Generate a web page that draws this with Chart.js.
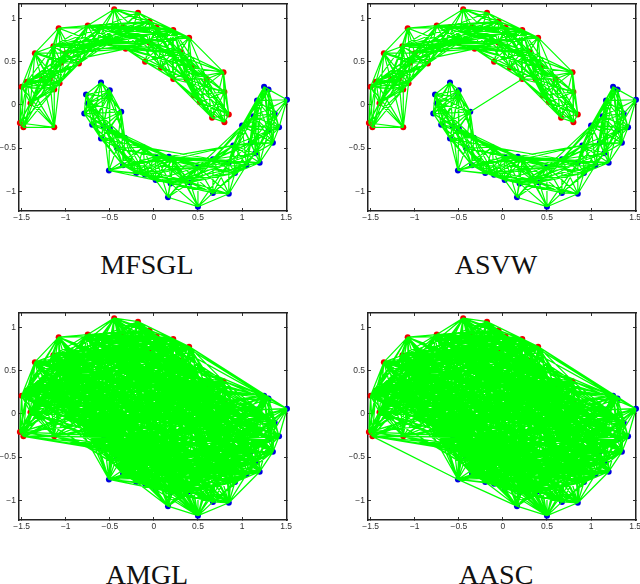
<!DOCTYPE html>
<html>
<head>
<meta charset="utf-8">
<title>Graphs</title>
<script src="https://cdn.jsdelivr.net/npm/chart.js@4/dist/chart.umd.min.js"></script>
<style>
html, body { margin: 0; padding: 0; background: #fff; width: 640px; height: 584px; overflow: hidden; }
canvas { position: absolute; }
.name { position: absolute; width: 200px; text-align: center; font: 28px "Liberation Serif", serif; color: #111; line-height: 30px; }
</style>
</head>
<body>
<canvas id="c0" width="296" height="240" style="left:0;top:0"></canvas>
<canvas id="c1" width="296" height="240" style="left:349px;top:0"></canvas>
<canvas id="c2" width="296" height="240" style="left:0;top:309px"></canvas>
<canvas id="c3" width="296" height="240" style="left:349px;top:309px"></canvas>
<div class="name" style="left:47px;top:250px">MFSGL</div>
<div class="name" style="left:396px;top:250px">ASVW</div>
<div class="name" style="left:47px;top:560px">AMGL</div>
<div class="name" style="left:396px;top:560px">AASC</div>

<script>
// points, same in all four panels
var redX = [-1.52,-1.48,-1.13,-1.40,-1.50,-1.44,-1.35,-1.08,-1.13,-1.07,-1.27,-1.18,-0.85,-1.05,-1.14,-1.00,-0.75,-0.65,-0.60,-0.50,-0.45,-0.35,-0.32,-0.18,-0.10,-0.05,0.03,-0.05,0.08,0.22,0.22,0.40,0.30,0.20,0.43,0.45,0.52,0.66,0.79,0.80,0.80,0.85,0.60,0.37];
var redY = [-0.21,-0.26,-0.26,0.02,0.21,0.27,0.60,0.89,0.18,0.25,0.29,0.30,0.48,0.49,0.68,0.60,0.92,0.72,0.90,0.72,1.11,0.90,0.65,1.07,0.50,0.97,0.90,0.72,0.43,0.87,0.30,0.78,0.62,0.60,0.43,0.11,0.03,-0.15,0.38,0.15,-0.20,-0.11,0.30,0.30];
var blueX = [-0.60,-0.50,-0.51,-0.77,-0.75,-0.79,-0.37,-0.70,-0.60,-0.57,-0.50,-0.33,-0.42,-0.51,-0.35,-0.20,-0.12,-0.10,0.02,0.02,0.17,0.16,0.19,0.22,0.33,0.41,0.50,0.50,0.67,0.67,0.85,0.85,0.92,0.90,1.00,1.05,1.10,1.15,1.20,1.13,1.17,1.25,1.30,1.35,1.37,1.42,1.51,1.30];
var blueY = [0.26,0.17,0.10,0.12,0.02,-0.10,-0.08,-0.23,-0.39,-0.25,-0.27,-0.38,-0.50,-0.76,-0.70,-0.79,-0.49,-0.81,-0.87,-0.60,-0.60,-1.07,-0.91,-0.63,-0.87,-0.90,-1.18,-0.72,-1.02,-0.63,-1.03,-0.67,-0.79,-0.47,-0.24,-0.70,-0.44,-0.56,-0.67,-0.13,0.05,0.21,0.18,-0.44,-0.10,-0.26,0.06,-0.30];

var xTicks = [-1.5,-1,-0.5,0,0.5,1,1.5];
var xTickLabels = ["\u22121.5","\u22121","\u22120.5","0","0.5","1","1.5"];
var yTicks = [-1,-0.5,0,0.5,1];
var yTickLabels = ["\u22121","\u22120.5","0","0.5","1"];

// edges: first number of a row is a node, the rest are the nodes it joins.
// red nodes are 0-43, blue nodes are 44-91
var moonRows = [
[0,1,2,3,4,5,10,8],[1,2,3,4,5,8,10,11],[2,3,8,10,11],[3,4,5,6,8,9,10,11,13],[4,5,6,8,10,11,13],
[5,6,8,9,10,11,13,14],[6,7,10,11,13,14,15,12],[7,12,13,14,15,16,17,18],[8,9,10,11,13,14],[9,10,11,12,13,14,15],
[10,11,12,13,14,15],[11,12,13,14,15,7],[12,13,14,15,17,7],[13,14,15,16,17,18],[14,15,16,17,18,19,21,22],
[15,16,17,18,19,21],[16,17,18,19,20,21,22,25,26],[17,18,19,20,21,22,25,26,27],[18,19,20,21,22,23,25,26,27],[19,20,21,22,23,25,26,27,29],
[20,21,22,23,25,26,27,29],[21,22,23,25,26,27,29,31,33],[22,23,24,25,26,27,32,33,29],[23,25,26,27,29,31],[24,26,27,28,29,30,33,32],
[25,26,27,29,31,32,33],[26,27,28,29,31,32,33],[27,28,29,30,31,32,33,43],[28,29,30,32,33,43],[29,30,31,32,33,34,43],
[30,32,33,34,35,42,43],[31,32,33,34,43],[32,33,34,35,38,42,43],[33,34,35,36,42,43],[34,35,36,37,38,39,42,43],
[35,36,37,38,39,41,42,43],[36,37,39,40,41,42,43],[37,38,39,40,41,42],[38,39,41,42,40],[39,40,41,42],[40,41,42],[41,42],[42,43],
[44,45,46,47,48,49,50],[45,46,47,48,49,50,53],[46,47,48,49,50,51,53],[47,48,49,51,53],[48,49,50,51,52,53,54],
[49,50,51,52,53,54],[50,51,52,53,54,55],[51,52,53,54,55,56],[52,53,54,55,56,58,60],[53,54,55,56,57,58],
[54,55,56,57,58,59,60],[55,56,58,59,60,61,63],[56,57,58,59,60,61,63],[57,58,59,60,61,63,64],[58,59,60,61,62,63,64,67],
[59,60,61,62,63,64,66,67],[60,61,62,63,64,67,71],[61,62,63,64,66,67,68],[62,63,64,65,66,67,68,69,71],[63,64,65,66,67,68,69,71],
[64,66,67,68,69,71,73,75],[65,66,67,68,69,70,71],[66,67,68,69,70,71,73],[67,68,69,70,71,72,73,75],[68,69,70,71,72,73,75,76],
[69,70,71,72,73,74,75,76],[70,71,72,74,75],[71,72,73,74,75,76,77,79],[72,73,74,75,76,79],[73,74,75,76,77,78,79,80],
[74,75,76,79],[75,76,77,78,79,80,81],[76,77,78,79,80,81,82],[77,78,79,80,81,82,83],[78,79,80,81,83,84,87,91],
[79,80,81,82,83,91],[80,81,82,83,84,87,88,91],[81,82,83,84,87,88,91],[82,83,87,91,84],[83,84,85,86,87,88,89,91],
[84,85,86,87,88,89,90,91],[85,86,87,88,89,90,91],[86,88,89,90,91],[87,88,89,91],[88,89,90,91],[89,90,91],[90,91]
];
// longer links along the two bands
var moonLong = [
[14,26,27,29],[13,21,22,19,25],[15,22,25,26,27],[12,16,18,19,21],[11,16,17],[9,16,17,18],[16,27,29,31],[17,29,31,33],
[18,29,31,32],[19,31,32,33,34],[21,34,43,30],[22,30,34,43],[25,34,43,30],[26,34,43,42],[27,34,42],[29,35,42],[31,35,42,38],
[32,36,39,41],[33,37,38,39,41],[34,40,41],[30,36,37,39],[43,35,36,37,38,39,40,41],[3,14,15,12],[4,9,15,12],[5,15,12],[6,8,9],
[10,7,16],[2,5,9],[2,4],
[46,52,54,55],[47,52,54],[44,51,53],[45,51,52,54,55],[48,55,56],[50,56,58],[51,58,60],[53,59,60,63],[54,61,63,64],[55,62,64,67],
[56,62,64,67],[58,66,68,71],[59,68,69,71],[60,68,69,73],[61,69,71,73],[63,73,75],[64,76,77],[66,72,74,75],[67,76,77],[68,74,77,79],
[69,77,79],[71,78,80,81],[73,81,82,83],[75,82,83,84],[77,84,87,91],[78,85,86,88,89],[80,85,89],[81,85,89],[83,90],[87,85,86]
];
var denseRows = [
[0,6,13,15,19,22,27,30,46,50,53,55],[1,9,14,17,24,28,34,47,51,52,54,55,60],[2,13,15,19,24,30,36,45,50,52,54,56,60,63],
[3,7,12,16,21,27,33,37,44,48,53,60,63,67],[4,7,14,18,23,26,32,35,46,50,55,60,64],[5,7,16,20,25,31,34,38,45,49,54,59,66],
[6,8,17,22,28,33,36,42,47,52,56,61,68],[7,9,21,24,30,35,39,44,50,55,62,67,71],[8,12,16,19,23,27,32,37,43,48,53,58,63,69,73],
[9,17,20,26,29,34,40,46,51,57,60,65,71],[10,18,22,25,31,36,41,45,54,59,64,68,75],[11,19,21,28,33,38,44,49,52,56,61,66,72],
[12,16,20,24,29,35,39,47,50,55,62,67,70,77],[13,22,27,30,37,42,46,53,58,63,69,74,78],[14,26,32,40,43,48,51,57,60,65,71,79],
[15,23,28,34,36,41,45,54,59,64,68,73,76],[16,31,38,44,49,56,61,66,72,75,80],[17,24,30,35,39,47,52,62,67,70,77,81],
[18,33,37,42,46,50,55,63,69,74,78,83],[19,36,40,48,53,58,65,71,76,82],[20,28,34,43,45,51,60,64,68,73,79,84],
[21,32,38,41,44,54,59,66,72,75,80,87],[22,30,35,39,47,49,56,61,67,70,77,81,88],[23,33,37,42,46,52,57,62,69,74,78,83,91],
[24,31,36,40,43,50,55,63,65,71,76,82,85],[25,34,41,48,53,58,64,68,73,79,84,89],[26,30,35,38,45,51,60,66,72,75,80,86,90],
[27,37,39,44,54,59,67,70,77,81,87],[28,36,42,47,49,56,61,69,74,78,83,88],[29,40,46,52,62,71,76,82,85,91],
[30,38,41,50,55,63,65,73,79,84,89],[31,37,39,42,48,57,64,68,75,80,85,86,90],[32,36,40,44,53,58,66,72,77,81,87],
[33,38,45,51,60,67,70,78,83,88],[34,41,47,54,59,69,74,76,82,91],[35,46,49,61,71,73,79,85,89],
[36,50,52,56,62,65,75,84,86,90],[37,44,55,63,68,77,80,87],[38,48,53,64,72,78,81,85,88,90],
[39,45,57,66,70,76,83,86,91],[40,47,51,58,67,74,79,82,89],[41,46,60,69,71,75,84,87,90],
[42,49,54,61,73,77,80,85,88],[43,50,59,62,65,78,81,86,91],
[44,52,56,64,68,72],[45,55,63,67,70,76,83],[46,58,71,74,79,84],[47,60,62,69,75],[48,57,61,66,73,77,80],
[49,59,65,72,78],[50,56,64,70,76,81,85],[51,63,68,74,82],[52,67,71,79,87],[53,62,69,75,83,91],
[54,66,73,80,88],[55,65,72,77,84,89],[56,64,70,78,86],[57,67,71],[58,68,74,81],[59,65,69,76,82],
[60,66,73,79,85,90],[61,71,75,87],[62,72,78,83],[63,70,77,84,91],[64,74,80,88],[65,73],[66,76,81,89],
[67,79,85],[68,75,82,86],[69,78,87],[70,73,77],[71,80,90],[72,83],[73,81,84,91],[74,77,82],[75,85,88],[76,87,89],[77,86,90]
];
// more links across the middle of the blob
var denseCore = [
[14,54,61,67,73,77],[15,50,57,66,75,83],[13,52,62,71,80],[12,51,60,69,76,88],[17,55,64,73,82],[19,52,61,70,79,86],[21,46,57,68,76,85],
[22,53,62,72,80,91],[24,48,58,69,78,84],[27,47,56,66,75,83],[28,44,54,64,76,87],[30,49,59,70,81,88],[32,45,57,67,79],[33,46,55,65,75,84],
[34,50,62,72,80,86],[35,44,56,66,76,83],[36,47,58,71,81],[37,48,59,69,78,91],[39,49,60,72,82],[42,51,63,75,87],[43,52,61,73,85],
[10,53,62,76,84],[11,50,63,74,81],[9,55,63,75,91],[8,47,61,72,80],[6,49,58,70,76],[5,47,55,63,71],[4,49,56,64,73],[3,46,54,62,70],
[46,61,68,78,88],[48,54,62,70,83],[50,63,69,79,89],[52,64,73,84],[54,65,75,87],[56,68,77,85],[58,71,82],[60,70,76,87],[63,74,81,89],
[67,78,84],[71,83,88],[73,87,90],[64,82,90]
];
var mfsglExtra = [[57,66],[70,68]];
var asvwExtra = [[50,30],[52,57],[40,37],[47,50]];
var amglExtra = [[1,52],[57,62]];
var aascExtra = [[1,57],[57,65],[70,74],[74,82]];

var nodeX = redX.concat(blueX);
var nodeY = redY.concat(blueY);

function xy(xs, ys){
	var pts = [];
	for(var i = 0; i < xs.length; i++){
		pts.push({x: xs[i], y: ys[i]});
	}
	return pts;
}

// one path for all the edges, a NaN point lifts the pen
function edgePath(rowLists){
	var pts = [];
	rowLists.forEach(function(rows){
		rows.forEach(function(row){
			for(var k = 1; k < row.length; k++){
				pts.push({x: nodeX[row[0]], y: nodeY[row[0]]});
				pts.push({x: nodeX[row[k]], y: nodeY[row[k]]});
				pts.push({x: NaN, y: NaN});
			}
		});
	});
	return pts;
}

function axis(pos, lo, hi, ticks, labels, size, showLabels, pad){
	return {
		type: "linear",
		position: pos,
		axis: (pos == "left" || pos == "right") ? "y" : "x",
		min: lo,
		max: hi,
		afterBuildTicks: function(scale){
			scale.ticks = ticks.map(function(v){ return {value: v}; });
		},
		afterFit: function(scale){
			if(scale.isHorizontal()){ scale.height = size; }
			else { scale.width = size; }
			// tick labels may hang over the edges, the plot box must not move
			scale.paddingLeft = 0;
			scale.paddingRight = 0;
			scale.paddingTop = 0;
			scale.paddingBottom = 0;
		},
		border: {display: true, color: "#222", width: 1.5},
		grid: {drawOnChartArea: false, drawTicks: true, tickLength: -3, color: "#333", lineWidth: 1},
		ticks: {
			display: showLabels,
			autoSkip: false,
			maxRotation: 0,
			minRotation: 0,
			padding: pad,
			color: "#333",
			font: {family: "'Liberation Sans', Arial, sans-serif", size: 8.5},
			callback: function(v){ return labels[ticks.indexOf(v)]; }
		}
	};
}

function drawPanel(id, rowLists, lineWidth){
	var ctx = document.getElementById(id).getContext("2d");
	return new Chart(ctx, {
		type: "scatter",
		data: {
			datasets: [
				{
					label: "edges",
					data: edgePath(rowLists),
					showLine: true,
					spanGaps: false,
					borderColor: "#00ff00",
					borderWidth: lineWidth,
					pointRadius: 0,
					clip: false
				},
				{label: "red", data: xy(redX, redY), pointRadius: 3, pointBackgroundColor: "#f00000", pointBorderWidth: 0, clip: false},
				{label: "blue", data: xy(blueX, blueY), pointRadius: 3, pointBackgroundColor: "#0000e0", pointBorderWidth: 0, clip: false}
			]
		},
		options: {
			responsive: false,
			animation: false,
			layout: {padding: {left: 0, top: 0, right: 9, bottom: 0}},
			plugins: {legend: {display: false}, tooltip: {enabled: false}, title: {display: false}},
			scales: {
				x: axis("bottom", -1.53, 1.51, xTicks, xTickLabels, 29, true, 5),
				y: axis("left", -1.23, 1.17, yTicks, yTickLabels, 19, true, 6),
				x2: axis("top", -1.53, 1.51, xTicks, xTickLabels, 1, false, 0),
				y2: axis("right", -1.23, 1.17, yTicks, yTickLabels, 0, false, 0)
			}
		}
	});
}

drawPanel("c0", [moonRows, moonLong, mfsglExtra], 1.2);
drawPanel("c1", [moonRows, moonLong, asvwExtra], 1.2);
drawPanel("c2", [moonRows, moonLong, denseRows, denseCore, amglExtra], 1.3);
drawPanel("c3", [moonRows, moonLong, denseRows, denseCore, aascExtra], 1.3);
</script>
</body>
</html>
